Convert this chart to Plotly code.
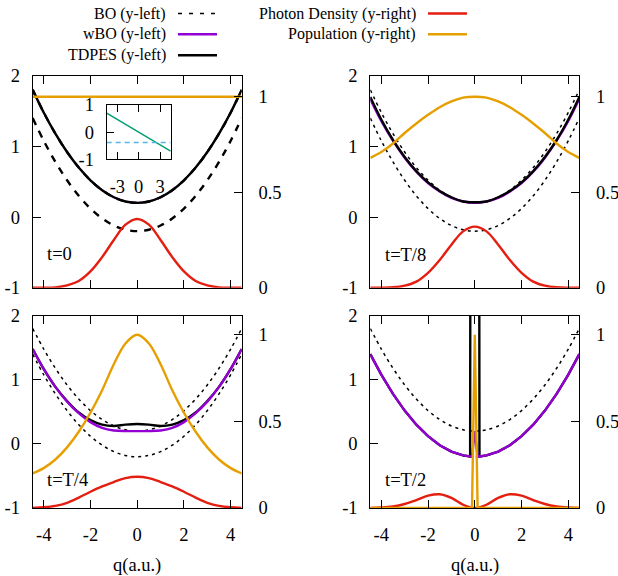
import plotly.graph_objects as go

# ---------------- data ----------------
q = [-4.47, -4, -3.5, -3, -2.5, -2, -1.5, -1, -0.5, 0, 0.5, 1, 1.5, 2, 2.5, 3, 3.5, 4, 4.47]

bo_upper = [1.80, 1.48, 1.18, 0.92, 0.70, 0.52, 0.38, 0.28, 0.22, 0.20,
            0.22, 0.28, 0.38, 0.52, 0.70, 0.92, 1.18, 1.48, 1.80]
bo_lower = [1.40, 1.08, 0.78, 0.52, 0.30, 0.12, -0.02, -0.12, -0.18, -0.20,
            -0.18, -0.12, -0.02, 0.12, 0.30, 0.52, 0.78, 1.08, 1.40]

# t = 0
tdpes_t0 = [1.80, 1.48, 1.18, 0.92, 0.70, 0.52, 0.38, 0.28, 0.22, 0.20,
            0.22, 0.28, 0.38, 0.52, 0.70, 0.92, 1.18, 1.48, 1.80]
wbo_t0 = [1.80, 1.48, 1.18, 0.92, 0.70, 0.52, 0.38, 0.28, 0.22, 0.20,
          0.22, 0.28, 0.38, 0.52, 0.70, 0.92, 1.18, 1.48, 1.80]
photon_t0 = [0.0, 0.0, 0.002, 0.012, 0.035, 0.085, 0.16, 0.25, 0.33, 0.36,
             0.33, 0.25, 0.16, 0.085, 0.035, 0.012, 0.002, 0.0, 0.0]
pop_t0 = [1.0] * 19

# t = T/8
tdpes_t8 = [1.70, 1.38, 1.09, 0.85, 0.65, 0.49, 0.37, 0.28, 0.22, 0.21,
            0.22, 0.28, 0.37, 0.49, 0.65, 0.85, 1.09, 1.38, 1.70]
wbo_t8 = [1.67, 1.36, 1.08, 0.84, 0.64, 0.48, 0.36, 0.27, 0.22, 0.20,
          0.22, 0.27, 0.36, 0.48, 0.64, 0.84, 1.08, 1.36, 1.67]
photon_t8 = [0.0, 0.0, 0.002, 0.011, 0.032, 0.078, 0.145, 0.225, 0.295, 0.32,
             0.295, 0.225, 0.145, 0.078, 0.032, 0.011, 0.002, 0.0, 0.0]
pop_t8 = [0.68, 0.71, 0.755, 0.81, 0.86, 0.905, 0.945, 0.975, 0.995, 1.0,
          0.995, 0.975, 0.945, 0.905, 0.86, 0.81, 0.755, 0.71, 0.68]

# t = T/4
tdpes_t4 = [1.48, 1.17, 0.89, 0.67, 0.49, 0.37, 0.30, 0.28, 0.30, 0.31,
            0.30, 0.28, 0.30, 0.37, 0.49, 0.67, 0.89, 1.17, 1.48]
wbo_t4 = [1.48, 1.17, 0.89, 0.66, 0.48, 0.34, 0.25, 0.21, 0.20, 0.20,
          0.20, 0.21, 0.25, 0.34, 0.48, 0.66, 0.89, 1.17, 1.48]
photon_t4 = [0.001, 0.004, 0.012, 0.03, 0.06, 0.094, 0.125, 0.15, 0.172, 0.18,
             0.172, 0.15, 0.125, 0.094, 0.06, 0.03, 0.012, 0.004, 0.001]
pop_t4 = [0.20, 0.23, 0.28, 0.35, 0.44, 0.55, 0.68, 0.83, 0.95, 1.0,
          0.95, 0.83, 0.68, 0.55, 0.44, 0.35, 0.28, 0.23, 0.20]

# t = T/2 (finer sampling near q = 0)
q2 = [-4.47, -4, -3.5, -3, -2.5, -2, -1.5, -1, -0.5, -0.2, -0.18, -0.12, 0,
      0.12, 0.18, 0.2, 0.5, 1, 1.5, 2, 2.5, 3, 3.5, 4, 4.47]
bo_upper_t2 = [1.80, 1.48, 1.18, 0.92, 0.70, 0.52, 0.38, 0.28, 0.22, 0.203, 0.203, 0.201, 0.20,
               0.201, 0.203, 0.203, 0.22, 0.28, 0.38, 0.52, 0.70, 0.92, 1.18, 1.48, 1.80]
bo_lower_t2 = [1.40, 1.08, 0.78, 0.52, 0.30, 0.12, -0.02, -0.12, -0.18, -0.197, -0.197, -0.199, -0.20,
               -0.199, -0.197, -0.197, -0.18, -0.12, -0.02, 0.12, 0.30, 0.52, 0.78, 1.08, 1.40]
wbo_t2 = [1.40, 1.08, 0.78, 0.52, 0.30, 0.12, -0.02, -0.12, -0.18, -0.197, -0.197, -0.199, 0.20,
          -0.199, -0.197, -0.197, -0.18, -0.12, -0.02, 0.12, 0.30, 0.52, 0.78, 1.08, 1.40]
tdpes_t2 = [1.40, 1.08, 0.78, 0.52, 0.30, 0.12, -0.02, -0.12, -0.18, -0.197, 6.0, 6.0, 6.0,
            6.0, 6.0, -0.197, -0.18, -0.12, -0.02, 0.12, 0.30, 0.52, 0.78, 1.08, 1.40]
photon_t2 = [0.0005, 0.0026, 0.0087, 0.023, 0.046, 0.071, 0.079, 0.058, 0.019, 0.0034, 0.0027, 0.0012, 0.0,
             0.0012, 0.0027, 0.0034, 0.019, 0.058, 0.079, 0.071, 0.046, 0.023, 0.0087, 0.0026, 0.0005]
pop_t2 = [0, 0, 0, 0, 0, 0, 0, 0, 0, 0, 0, 0, 1.0,
          0, 0, 0, 0, 0, 0, 0, 0, 0, 0, 0, 0]

# inset
inset_q = [-4.5, 4.5]
inset_green = [0.7, -0.7]
inset_blue = [-0.38, -0.38]

panel_labels = ["t=0", "t=T/8", "t=T/4", "t=T/2"]
legend_left = ["BO (y-left)", "wBO (y-left)", "TDPES (y-left)"]
legend_right = ["Photon Density (y-right)", "Population (y-right)"]
xticks = [-4, -2, 0, 2, 4]
xticktext = ["-4", "-2", "0", "2", "4"]
yl_ticks = [-1, 0, 1, 2]
yl_text = ["-1", "0", "1", "2"]
yr_ticks = [0, 0.5, 1]
yr_text = ["0", "0.5", "1"]

# ---------------- styling ----------------
W, H = 618, 576
FONT = "Liberation Serif"
FS = 18.5
BLACK = "#000000"
PURPLE = "#9400d3"
RED = "#e41e10"
ORANGE = "#e69f00"
GREEN = "#009e73"
BLUE = "#56b4e9"
LW = 2.4


def fx(p):
    return p / W


def fy(p):
    return 1 - p / H


fig = go.Figure()


def add(xs, ys, xa, ya, color, width, dash=None, shape="spline", name=None):
    fig.add_trace(go.Scatter(
        x=xs, y=ys, mode="lines", xaxis=xa, yaxis=ya, name=name,
        line=dict(color=color, width=width, dash=dash, shape=shape),
        showlegend=False, hoverinfo="skip"))


# panel 1 : t=0
add(q, bo_upper, "x", "y", BLACK, 2.4, "7px,7px", name="BO")
add(q, bo_lower, "x", "y", BLACK, 2.4, "7px,7px", name="BO")
add(q, wbo_t0, "x", "y", PURPLE, 1.6, name="wBO")
add(q, tdpes_t0, "x", "y", BLACK, LW, name="TDPES")
add(q, photon_t0, "x", "y2", RED, LW, name="Photon Density")
add(q, pop_t0, "x", "y2", ORANGE, LW, name="Population")

# panel 2 : t=T/8
add(q, bo_upper, "x2", "y3", BLACK, 1.5, "3px,4px", name="BO")
add(q, bo_lower, "x2", "y3", BLACK, 1.5, "3px,4px", name="BO")
add(q, wbo_t8, "x2", "y3", PURPLE, LW, name="wBO")
add(q, tdpes_t8, "x2", "y3", BLACK, LW, name="TDPES")
add(q, photon_t8, "x2", "y4", RED, LW, name="Photon Density")
add(q, pop_t8, "x2", "y4", ORANGE, LW, name="Population")

# panel 3 : t=T/4
add(q, bo_upper, "x3", "y5", BLACK, 1.5, "3px,4px", name="BO")
add(q, bo_lower, "x3", "y5", BLACK, 1.5, "3px,4px", name="BO")
add(q, tdpes_t4, "x3", "y5", BLACK, LW, name="TDPES")
add(q, wbo_t4, "x3", "y5", PURPLE, LW, name="wBO")
add(q, photon_t4, "x3", "y6", RED, LW, name="Photon Density")
add(q, pop_t4, "x3", "y6", ORANGE, LW, name="Population")

# panel 4 : t=T/2
add(q2, bo_upper_t2, "x4", "y7", BLACK, 1.5, "3px,4px", "spline", name="BO")
add(q2, bo_lower_t2, "x4", "y7", BLACK, 1.5, "3px,4px", "spline", name="BO")
add(q2, tdpes_t2, "x4", "y7", BLACK, LW, shape="linear", name="TDPES")
add(q2, wbo_t2, "x4", "y7", PURPLE, LW, shape="linear", name="wBO")
add(q2, photon_t2, "x4", "y8", RED, LW, shape="spline", name="Photon Density")
add(q2, pop_t2, "x4", "y8", ORANGE, LW, shape="linear", name="Population")

# inset
add(inset_q, inset_green, "x5", "y9", GREEN, 1.6, shape="linear", name="inset")
add(inset_q, inset_blue, "x5", "y9", BLUE, 1.6, "5px,4px", "linear", name="inset")

tickfont = dict(family=FONT, size=FS, color=BLACK)

xdom = [[32.7, 241.7], [370.3, 579.3], [32.7, 241.7], [370.3, 579.3]]
ydom = [[75.7, 287.7], [75.7, 287.7], [315.7, 508.0], [315.7, 508.0]]

layout = dict(
    width=W, height=H, autosize=False,
    margin=dict(l=0, r=0, t=0, b=0, pad=0),
    paper_bgcolor="white", plot_bgcolor="white",
    showlegend=False,
)

for i in range(4):
    xn = "xaxis" if i == 0 else f"xaxis{i + 1}"
    xid = "x" if i == 0 else f"x{i + 1}"
    yl = 2 * i + 1
    yr = 2 * i + 2
    yln = "yaxis" if yl == 1 else f"yaxis{yl}"
    ylid = "y" if yl == 1 else f"y{yl}"
    layout[xn] = dict(
        domain=[fx(xdom[i][0]), fx(xdom[i][1])], anchor=ylid, automargin=False,
        range=[-4.47, 4.47], tickvals=xticks, ticktext=xticktext,
        ticks="inside", ticklen=8, tickwidth=1, tickcolor=BLACK,
        showline=True, linecolor=BLACK, linewidth=1, mirror="ticks",
        showgrid=False, zeroline=False, tickfont=tickfont,
        showticklabels=(i >= 2), ticklabelstandoff=10,
    )
    layout[yln] = dict(
        domain=[fy(ydom[i][1]), fy(ydom[i][0])], anchor=xid, automargin=False,
        range=[-1, 2], tickvals=yl_ticks, ticktext=yl_text,
        ticks="inside", ticklen=8, tickwidth=1, tickcolor=BLACK,
        showline=True, linecolor=BLACK, linewidth=1, mirror=True,
        showgrid=False, zeroline=False, tickfont=tickfont,
        ticklabelstandoff=8,
    )
    layout[f"yaxis{yr}"] = dict(
        overlaying=ylid, side="right", anchor=xid, automargin=False,
        range=[0, 1.11], tickvals=yr_ticks, ticktext=yr_text,
        ticks="inside", ticklen=8, tickwidth=1, tickcolor=BLACK,
        showline=True, linecolor=BLACK, linewidth=1,
        showgrid=False, zeroline=False, tickfont=tickfont,
        ticklabelstandoff=12,
    )

# inset axes
layout["xaxis5"] = dict(
    domain=[fx(106.7), fx(170.7)], anchor="y9", automargin=False,
    range=[-4.5, 4.5], tickvals=[-3, 0, 3], ticktext=["-3", "0", "3"],
    ticks="inside", ticklen=7, tickwidth=1, tickcolor=BLACK,
    showline=True, linecolor=BLACK, linewidth=1, mirror="ticks",
    showgrid=False, zeroline=False, tickfont=tickfont, ticklabelstandoff=10,
)
layout["yaxis9"] = dict(
    domain=[fy(159.3), fy(105.0)], anchor="x5", automargin=False,
    range=[-1, 1], tickvals=[-1, 0, 1], ticktext=["-1", "0", "1"],
    ticks="inside", ticklen=7, tickwidth=1, tickcolor=BLACK,
    showline=True, linecolor=BLACK, linewidth=1, mirror=True,
    showgrid=False, zeroline=False, tickfont=tickfont, ticklabelstandoff=8,
)

annotations = []
label_pos = [(45, 254), (382.7, 255), (45, 480), (382.7, 480)]
for txt, (lx, ly) in zip(panel_labels, label_pos):
    annotations.append(dict(text=txt, x=fx(lx), y=fy(ly), xref="paper", yref="paper",
                            xanchor="left", yanchor="middle", showarrow=False,
                            font=dict(family=FONT, size=FS, color=BLACK)))
for cx in (137.2, 474.8):
    annotations.append(dict(text="q(a.u.)", x=fx(cx), y=fy(565), xref="paper", yref="paper",
                            xanchor="center", yanchor="middle", showarrow=False,
                            font=dict(family=FONT, size=FS, color=BLACK)))

shapes = []
leg_rows = [13.5, 34.3, 55.3]
leg_left_style = [(BLACK, 1.5, "4px,7px"), (PURPLE, 2.4, None), (BLACK, 2.4, None)]
for txt, ry, (c, w, d) in zip(legend_left, leg_rows, leg_left_style):
    annotations.append(dict(text=txt, x=fx(168), y=fy(ry), xref="paper", yref="paper",
                            xanchor="right", yanchor="middle", showarrow=False,
                            font=dict(family=FONT, size=16, color=BLACK)))
    shapes.append(dict(type="line", xref="paper", yref="paper",
                       x0=fx(178), x1=fx(217), y0=fy(ry), y1=fy(ry),
                       line=dict(color=c, width=w, dash=d)))
leg_right_style = [RED, ORANGE]
for txt, ry, c in zip(legend_right, leg_rows[:2], leg_right_style):
    annotations.append(dict(text=txt, x=fx(418), y=fy(ry), xref="paper", yref="paper",
                            xanchor="right", yanchor="middle", showarrow=False,
                            font=dict(family=FONT, size=16, color=BLACK)))
    shapes.append(dict(type="line", xref="paper", yref="paper",
                       x0=fx(428), x1=fx(467), y0=fy(ry), y1=fy(ry),
                       line=dict(color=c, width=2.4)))

layout["annotations"] = annotations
layout["shapes"] = shapes
fig.update_layout(**layout)

fig.write_html("out.html", config={"displayModeBar": False},
               post_script="document.body.style.margin='0px';")
